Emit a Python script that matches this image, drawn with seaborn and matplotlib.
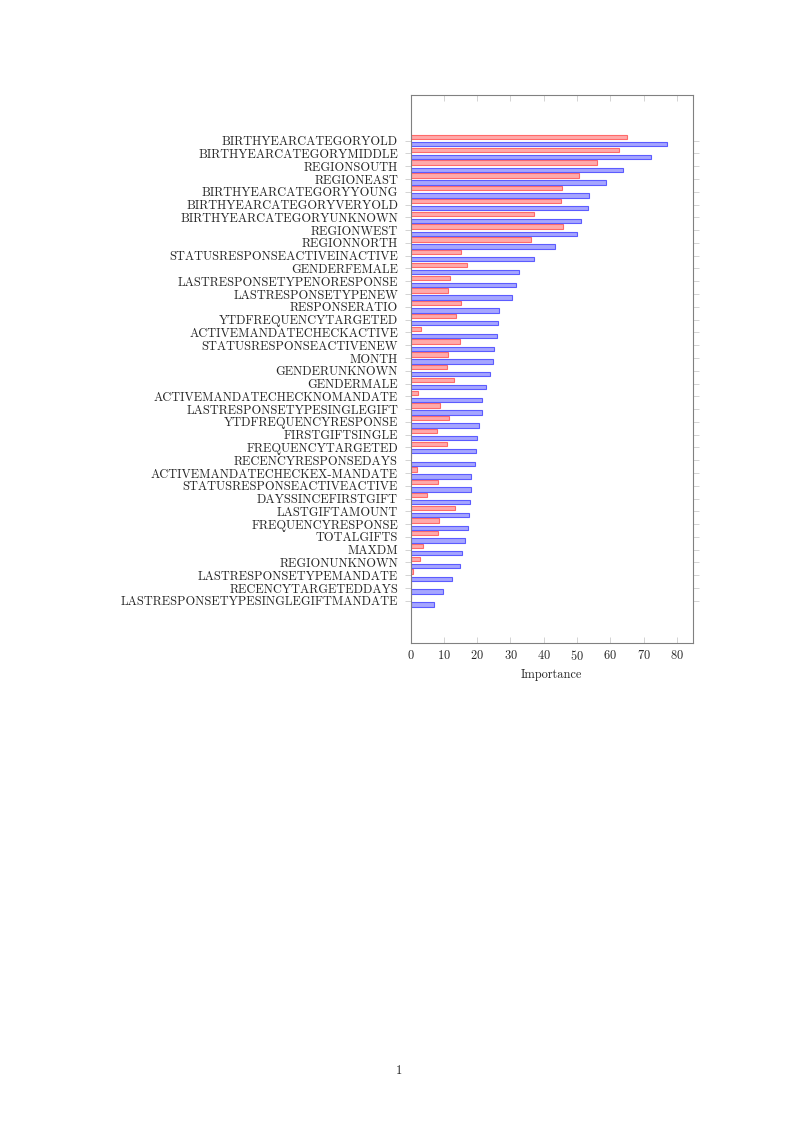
import pandas as pd
import seaborn as sns
import matplotlib.pyplot as plt

# Feature importances for the two models
features = [
    "BIRTHYEARCATEGORYOLD", "BIRTHYEARCATEGORYMIDDLE", "REGIONSOUTH", "REGIONEAST",
    "BIRTHYEARCATEGORYYOUNG", "BIRTHYEARCATEGORYVERYOLD", "BIRTHYEARCATEGORYUNKNOWN",
    "REGIONWEST", "REGIONNORTH", "STATUSRESPONSEACTIVEINACTIVE", "GENDERFEMALE",
    "LASTRESPONSETYPENORESPONSE", "LASTRESPONSETYPENEW", "RESPONSERATIO",
    "YTDFREQUENCYTARGETED", "ACTIVEMANDATECHECKACTIVE", "STATUSRESPONSEACTIVENEW",
    "MONTH", "GENDERUNKNOWN", "GENDERMALE", "ACTIVEMANDATECHECKNOMANDATE",
    "LASTRESPONSETYPESINGLEGIFT", "YTDFREQUENCYRESPONSE", "FIRSTGIFTSINGLE",
    "FREQUENCYTARGETED", "RECENCYRESPONSEDAYS", "ACTIVEMANDATECHECKEX-MANDATE",
    "STATUSRESPONSEACTIVEACTIVE", "DAYSSINCEFIRSTGIFT", "LASTGIFTAMOUNT",
    "FREQUENCYRESPONSE", "TOTALGIFTS", "MAXDM", "REGIONUNKNOWN",
    "LASTRESPONSETYPEMANDATE", "RECENCYTARGETEDDAYS", "LASTRESPONSETYPESINGLEGIFTMANDATE",
]
red_values = [
    65.1, 62.7, 56.1, 50.7, 45.6, 45.1, 37.0, 45.8, 36.3, 15.2,
    17.0, 11.8, 11.3, 15.1, 13.7, 3.1, 14.8, 11.3, 11.0, 13.1,
    2.1, 8.7, 11.4, 8.0, 11.0, 0.1, 2.0, 8.2, 4.8, 13.3,
    8.6, 8.1, 3.8, 2.7, 0.8, 0.2, 0.2,
]
blue_values = [
    77.1, 72.3, 63.8, 58.6, 53.7, 53.3, 51.1, 50.1, 43.4, 37.1,
    32.6, 31.6, 30.6, 26.6, 26.4, 25.9, 25.2, 24.9, 23.9, 22.8,
    21.4, 21.4, 20.6, 20.1, 19.8, 19.5, 18.3, 18.1, 18.0, 17.7,
    17.2, 16.4, 15.3, 14.7, 12.5, 9.6, 7.0,
]

df = pd.DataFrame({
    "feature": features * 2,
    "importance": red_values + blue_values,
    "model": ["red"] * len(features) + ["blue"] * len(features),
})

sns.set_style("white")
plt.rcParams["font.family"] = ["cmr10", "DejaVu Serif"]
plt.rcParams["axes.formatter.use_mathtext"] = True
fs = 8.9

fig = plt.figure(figsize=(7.99, 11.30), dpi=100)
ax = fig.add_axes([0.5138, 0.4310, 0.3532, 0.4850])

fills = ["#ffaaaa", "#a6a6ff"]
edges = ["#ff6a6a", "#5c5cff"]
sns.barplot(data=df, y="feature", x="importance", hue="model", order=features,
            hue_order=["red", "blue"], palette=fills, saturation=1, orient="h",
            width=1.12, gap=0.39, errorbar=None, legend=False, ax=ax)
for container, ec in zip(ax.containers, edges):
    for bar in container:
        bar.set_edgecolor(ec)
        bar.set_linewidth(0.8)

ax.set_xlim(0, 84.7)
ax.set_ylim(36 + 3.3, -3.58)
ax.set_xticks(range(0, 90, 10))
ax.set_xlabel("Importance", fontsize=fs, labelpad=4)
ax.set_ylabel("")

for side in ["top", "bottom", "left", "right"]:
    ax.spines[side].set_color("#808080")
    ax.spines[side].set_linewidth(0.8)

ax.tick_params(axis="x", which="both", direction="in", top=True, bottom=True,
               length=4, width=0.6, color="#cccccc", labelsize=fs, pad=4.5)
ax.tick_params(axis="y", which="both", direction="out", left=True, right=True,
               length=4, width=0.6, color="#cccccc", labelsize=fs, pad=5)

fig.text(0.4994, 0.0522, "1", ha="center", va="center", fontsize=fs)

fig.savefig("out.png", dpi=100)
